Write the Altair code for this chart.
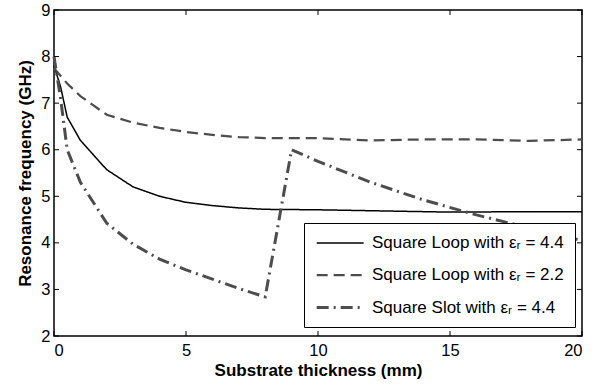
import altair as alt
import pandas as pd

# Substrate thickness (mm) and resonance frequency (GHz) for each structure
loop44_x = [0, 0.25, 0.5, 1, 2, 3, 4, 5, 6, 7, 8, 10, 12, 15, 18, 20]
loop44_y = [7.8, 7.35, 6.7, 6.2, 5.57, 5.2, 5.0, 4.87, 4.8, 4.75, 4.72, 4.71, 4.69, 4.66, 4.67, 4.67]

loop22_x = [0, 0.5, 1, 2, 3, 4, 5, 6, 7, 8, 9, 10, 12, 14, 16, 18, 20]
loop22_y = [7.75, 7.42, 7.15, 6.75, 6.58, 6.47, 6.38, 6.32, 6.27, 6.25, 6.25, 6.25, 6.2, 6.22, 6.22, 6.19, 6.22]

slot44_x = [0, 0.25, 0.5, 1, 2, 3, 4, 5, 6, 7, 8, 9, 10, 12, 14, 16, 18, 20]
slot44_y = [8.0, 7.1, 6.0, 5.3, 4.42, 3.97, 3.65, 3.42, 3.22, 3.02, 2.84, 6.0, 5.75, 5.3, 4.92, 4.6, 4.32, 4.05]

series_names = [
    "Square Loop with εᵣ = 4.4",
    "Square Loop with εᵣ = 2.2",
    "Square Slot with εᵣ = 4.4",
]

x_ticks = [0, 5, 10, 15, 20]
y_ticks = [2, 3, 4, 5, 6, 7, 8, 9]

rows = []
for name, xs, ys in zip(series_names, [loop44_x, loop22_x, slot44_x], [loop44_y, loop22_y, slot44_y]):
    for i, (x, y) in enumerate(zip(xs, ys)):
        rows.append({"series": name, "thickness": x, "freq": y, "idx": i})
df = pd.DataFrame(rows)

W, H = 528, 326
FONT = "Liberation Sans"

x_scale = alt.Scale(domain=[0, 20], nice=False, zero=False)
y_scale = alt.Scale(domain=[2, 9], nice=False, zero=False)

lines = alt.Chart(df).mark_line(strokeCap="butt").encode(
    x=alt.X("thickness:Q", scale=x_scale,
            axis=alt.Axis(title="Substrate thickness (mm)", values=x_ticks, ticks=False,
                          grid=False, domain=False, labelPadding=6, titlePadding=4,
                          labelFontSize=16.5, titleFontSize=17, titleFontWeight="bold",
                          labelFont=FONT, titleFont=FONT, labelColor="black", titleColor="black")),
    y=alt.Y("freq:Q", scale=y_scale,
            axis=alt.Axis(title="Resonance frequency (GHz)", values=y_ticks, ticks=False,
                          grid=False, domain=False, labelPadding=4, titlePadding=6,
                          labelFontSize=16.5, titleFontSize=17, titleFontWeight="bold",
                          labelFont=FONT, titleFont=FONT, labelColor="black", titleColor="black")),
    color=alt.Color("series:N", scale=alt.Scale(domain=series_names, range=["#000000", "#4d4d4d", "#4d4d4d"]),
                    legend=alt.Legend(title=None)),
    strokeDash=alt.StrokeDash("series:N", scale=alt.Scale(domain=series_names, range=[[1, 0], [11, 6], [12, 5, 2, 5]]),
                              legend=alt.Legend(title=None)),
    strokeWidth=alt.StrokeWidth("series:N", scale=alt.Scale(domain=series_names, range=[1.5, 3, 3.5]),
                                legend=alt.Legend(title=None)),
    order="idx:Q",
)

# inward tick marks on all four sides
xt = pd.DataFrame({"v": x_ticks})
yt = pd.DataFrame({"v": y_ticks})
tick_len = 5
xb = alt.Chart(xt).mark_rule(color="black", strokeWidth=1).encode(
    x=alt.X("v:Q", scale=x_scale), y=alt.value(H), y2=alt.value(H - tick_len))
xtop = alt.Chart(xt).mark_rule(color="black", strokeWidth=1).encode(
    x=alt.X("v:Q", scale=x_scale), y=alt.value(0), y2=alt.value(tick_len))
yl = alt.Chart(yt).mark_rule(color="black", strokeWidth=1).encode(
    y=alt.Y("v:Q", scale=y_scale), x=alt.value(0), x2=alt.value(tick_len))
yr = alt.Chart(yt).mark_rule(color="black", strokeWidth=1).encode(
    y=alt.Y("v:Q", scale=y_scale), x=alt.value(W), x2=alt.value(W - tick_len))

# legend key: a horizontal stroke that starts at the entry's left edge and
# runs three symbol-widths to the right, so rows stay compact
key_path = "M-1,0H5"

chart = alt.layer(lines, xb, xtop, yl, yr).properties(
    width=W, height=H,
    autosize=alt.AutoSizeParams(type="none"),
    padding={"left": 54, "top": 10, "right": 25, "bottom": 51},
).configure_view(
    stroke="black", strokeWidth=1.5
).configure_legend(
    orient="none", legendX=250, legendY=213,
    fillColor="white", strokeColor="black",
    padding=11, symbolType=key_path, symbolSize=245,
    symbolStrokeWidth=2, labelFontSize=17, labelFont=FONT, labelColor="black",
    labelOffset=38, rowPadding=15, labelLimit=400,
)

chart.save("out.html", embed_options={"renderer": "svg", "actions": False})
